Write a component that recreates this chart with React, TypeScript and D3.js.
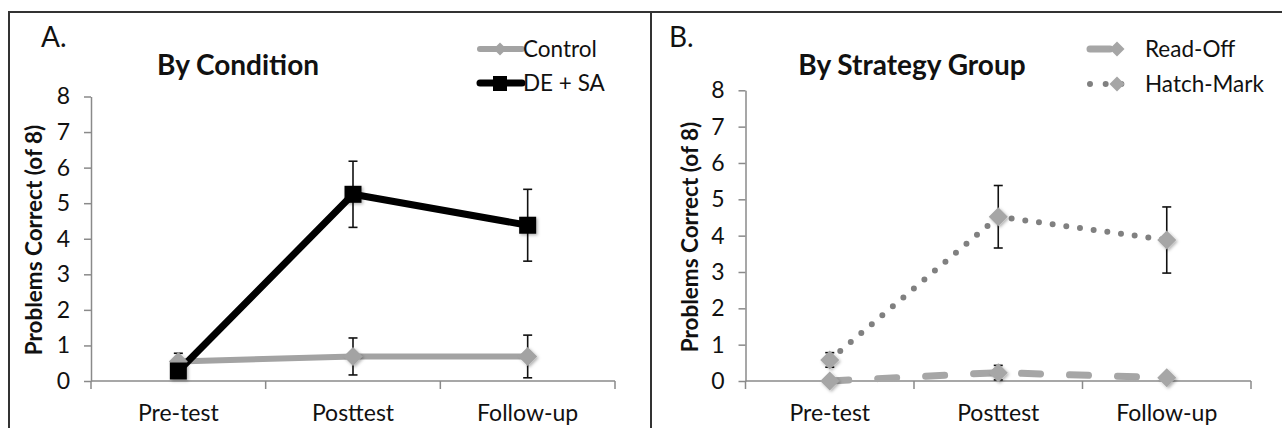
import React, { useEffect, useRef } from "react";
import * as d3 from "d3";

// ---- data ----
const categories = ["Pre-test", "Posttest", "Follow-up"];
const yTicks = [0, 1, 2, 3, 4, 5, 6, 7, 8];

const controlMean = [0.55, 0.69, 0.69];
const controlErr = [0.23, 0.52, 0.6];
const deSaMean = [0.28, 5.25, 4.38];
const deSaErr = [0.2, 0.93, 1.01];

const readOffMean = [0.0, 0.23, 0.09];
const readOffErr = [0.0, 0.2, 0.0];
const hatchMean = [0.58, 4.52, 3.88];
const hatchErr = [0.2, 0.86, 0.91];

const FONT = "Lato, 'Open Sans', sans-serif";

type Series = {
  name: string;
  mean: number[];
  err: number[];
  color: string;
  width: number;
  dash?: string;
  cap?: string;
  lineColor?: string;
  marker: "square" | "diamond";
  markerSize: number;
};

type PanelCfg = {
  letter: string;
  letterX: number;
  title: string;
  titleX: number;
  x0: number;
  x1: number;
  yTop: number;
  yBottom: number;
  yTitleX: number;
  yTitleY: number;
  series: Series[];
};

const App = () => {
  const svgRef = useRef<SVGSVGElement>(null);

  useEffect(() => {
    const width = 1282;
    const height = 428;
    const svg = d3.select(svgRef.current);
    svg.selectAll("*").remove();
    svg.attr("width", width).attr("height", height);

    svg.append("rect").attr("width", width).attr("height", height).attr("fill", "white");

    const defs = svg.append("defs");
    defs
      .append("filter")
      .attr("id", "shadow")
      .attr("x", "-50%")
      .attr("y", "-50%")
      .attr("width", "200%")
      .attr("height", "200%")
      .append("feDropShadow")
      .attr("dx", 1.5)
      .attr("dy", 1.5)
      .attr("stdDeviation", 1.5)
      .attr("flood-color", "#000")
      .attr("flood-opacity", 0.3);

    // frame
    const frame = svg.append("g").attr("stroke", "#333").attr("stroke-width", 2).attr("fill", "none");
    frame.append("line").attr("x1", 8).attr("x2", width).attr("y1", 12).attr("y2", 12);
    frame.append("line").attr("x1", 9).attr("x2", 9).attr("y1", 12).attr("y2", height);
    frame.append("line").attr("x1", 651).attr("x2", 651).attr("y1", 12).attr("y2", height);

    const diamond = (s: number) => `M0,${-s / 2}L${s / 2},0L0,${s / 2}L${-s / 2},0Z`;

    const drawMarker = (g: any, s: Series, x: number, y: number, size: number) => {
      if (s.marker === "square") {
        g.append("rect")
          .attr("x", x - size / 2)
          .attr("y", y - size / 2)
          .attr("width", size)
          .attr("height", size)
          .attr("fill", s.color)
          .attr("filter", "url(#shadow)");
      } else {
        g.append("path")
          .attr("d", diamond(size))
          .attr("transform", `translate(${x},${y})`)
          .attr("fill", s.color)
          .attr("filter", "url(#shadow)");
      }
    };

    const drawPanel = (cfg: PanelCfg) => {
      const g = svg.append("g");
      const x = d3.scaleBand().domain(categories).range([cfg.x0, cfg.x1]);
      const y = d3.scaleLinear().domain([0, 8]).range([cfg.yBottom, cfg.yTop]);
      const cx = (c: string) => (x(c) as number) + x.bandwidth() / 2;

      // panel letter + title
      g.append("text")
        .attr("x", cfg.letterX)
        .attr("y", 47)
        .style("font-family", FONT)
        .style("font-size", "28px")
        .attr("fill", "#111")
        .text(cfg.letter);
      g.append("text")
        .attr("x", cfg.titleX)
        .attr("y", 75)
        .attr("text-anchor", "middle")
        .style("font-family", FONT)
        .style("font-size", "28px")
        .style("font-weight", "bold")
        .attr("fill", "#111")
        .text(cfg.title);

      // y axis
      const yAxis = g
        .append("g")
        .attr("transform", `translate(${cfg.x0},0)`)
        .call(d3.axisLeft(y).tickValues(yTicks).tickSize(7).tickPadding(14).tickSizeOuter(0));
      yAxis.select(".domain").attr("stroke", "#8a8a8a").attr("stroke-width", 1.5);
      yAxis.selectAll(".tick line").attr("stroke", "#8a8a8a").attr("stroke-width", 1.5);
      yAxis
        .selectAll(".tick text")
        .attr("fill", "#111")
        .style("font-family", FONT)
        .style("font-size", "23px");

      g.append("text")
        .attr("transform", `translate(${cfg.yTitleX},${cfg.yTitleY}) rotate(-90)`)
        .attr("text-anchor", "middle")
        .style("font-family", FONT)
        .style("font-size", "22.5px")
        .style("font-weight", "bold")
        .attr("fill", "#111")
        .text("Problems Correct (of 8)");

      // x axis
      const xAxis = g.append("g").attr("transform", `translate(0,${cfg.yBottom})`);
      xAxis
        .append("line")
        .attr("x1", cfg.x0)
        .attr("x2", cfg.x1)
        .attr("stroke", "#8a8a8a")
        .attr("stroke-width", 1.5);
      const bounds = [cfg.x0, ...categories.map((c) => (x(c) as number) + x.bandwidth())];
      bounds.forEach((b) => {
        xAxis.append("line").attr("x1", b).attr("x2", b).attr("y1", 0).attr("y2", 8).attr("stroke", "#8a8a8a").attr("stroke-width", 1.5);
      });
      categories.forEach((c) => {
        xAxis
          .append("text")
          .attr("x", cx(c))
          .attr("y", 40)
          .attr("text-anchor", "middle")
          .style("font-family", FONT)
          .style("font-size", "23px")
          .attr("fill", "#111")
          .text(c);
      });

      // error bars
      cfg.series.forEach((s) => {
        categories.forEach((c, i) => {
          if (s.err[i] <= 0) return;
          const xi = cx(c);
          const top = y(s.mean[i] + s.err[i]);
          const bot = y(Math.max(0, s.mean[i] - s.err[i]));
          const eb = g.append("g").attr("stroke", "#111").attr("stroke-width", 1.6);
          eb.append("line").attr("x1", xi).attr("x2", xi).attr("y1", top).attr("y2", bot);
          eb.append("line").attr("x1", xi - 4.5).attr("x2", xi + 4.5).attr("y1", top).attr("y2", top);
          eb.append("line").attr("x1", xi - 4.5).attr("x2", xi + 4.5).attr("y1", bot).attr("y2", bot);
        });
      });

      // lines
      const line = d3
        .line<number>()
        .x((_, i) => cx(categories[i]))
        .y((d) => y(d));
      cfg.series.forEach((s) => {
        g.append("path")
          .attr("d", line(s.mean))
          .attr("fill", "none")
          .attr("stroke", s.lineColor || s.color)
          .attr("stroke-width", s.width)
          .attr("stroke-linecap", s.cap || "butt")
          .attr("stroke-linejoin", "round")
          .attr("stroke-dasharray", s.dash || null);
      });

      // markers
      cfg.series.forEach((s) => {
        categories.forEach((c, i) => drawMarker(g, s, cx(c), y(s.mean[i]), s.markerSize));
      });
    };

    const control: Series = { name: "Control", mean: controlMean, err: controlErr, color: "#a3a3a3", width: 6, marker: "diamond", markerSize: 19 };
    const deSa: Series = { name: "DE + SA", mean: deSaMean, err: deSaErr, color: "#000", width: 7, marker: "square", markerSize: 17 };
    const readOff: Series = {
      name: "Read-Off",
      mean: readOffMean,
      err: readOffErr,
      color: "#a6a6a6",
      width: 7,
      dash: "19 29",
      cap: "round",
      marker: "diamond",
      markerSize: 19,
    };
    const hatch: Series = {
      name: "Hatch-Mark",
      mean: hatchMean,
      err: hatchErr,
      color: "#a6a6a6",
      lineColor: "#808080",
      width: 6,
      dash: "0 13.8",
      cap: "round",
      marker: "diamond",
      markerSize: 19,
    };

    drawPanel({
      letter: "A.",
      letterX: 41,
      title: "By Condition",
      titleX: 238,
      x0: 91,
      x1: 615,
      yTop: 96.5,
      yBottom: 381,
      yTitleX: 42,
      yTitleY: 240,
      series: [control, deSa],
    });
    drawPanel({
      letter: "B.",
      letterX: 669,
      title: "By Strategy Group",
      titleX: 912,
      x0: 745.5,
      x1: 1251,
      yTop: 90.3,
      yBottom: 381,
      yTitleX: 698,
      yTitleY: 237,
      series: [readOff, hatch],
    });

    // legends
    const legendText = (lx: number, ly: number, t: string) =>
      svg
        .append("text")
        .attr("x", lx)
        .attr("y", ly)
        .style("font-family", FONT)
        .style("font-size", "22.5px")
        .attr("fill", "#111")
        .text(t);

    // A legend
    svg.append("line").attr("x1", 480).attr("x2", 522).attr("y1", 49).attr("y2", 49).attr("stroke", control.color).attr("stroke-width", 6).attr("stroke-linecap", "round");
    svg.append("path").attr("d", diamond(13)).attr("transform", "translate(500,49)").attr("fill", control.color);
    legendText(523, 57, control.name);
    svg.append("line").attr("x1", 480).attr("x2", 522).attr("y1", 83).attr("y2", 83).attr("stroke", "#000").attr("stroke-width", 7).attr("stroke-linecap", "round");
    svg.append("rect").attr("x", 493).attr("y", 76).attr("width", 14).attr("height", 15).attr("fill", "#000");
    legendText(523, 91, deSa.name);

    // B legend
    svg.append("line").attr("x1", 1090).attr("x2", 1110).attr("y1", 49).attr("y2", 49).attr("stroke", readOff.color).attr("stroke-width", 7).attr("stroke-linecap", "round");
    svg.append("path").attr("d", diamond(15)).attr("transform", "translate(1117,49)").attr("fill", readOff.color);
    legendText(1145, 57, readOff.name);
    svg.append("line").attr("x1", 1090).attr("x2", 1137).attr("y1", 84).attr("y2", 84).attr("stroke", "#808080").attr("stroke-width", 6).attr("stroke-dasharray", "0 15.67").attr("stroke-linecap", "round");
    svg.append("path").attr("d", diamond(15)).attr("transform", "translate(1117,84)").attr("fill", hatch.color);
    legendText(1145, 92, hatch.name);
  }, []);

  return <svg ref={svgRef} style={{ position: "absolute", left: 0, top: 0, display: "block" }}></svg>;
};

export default App;
